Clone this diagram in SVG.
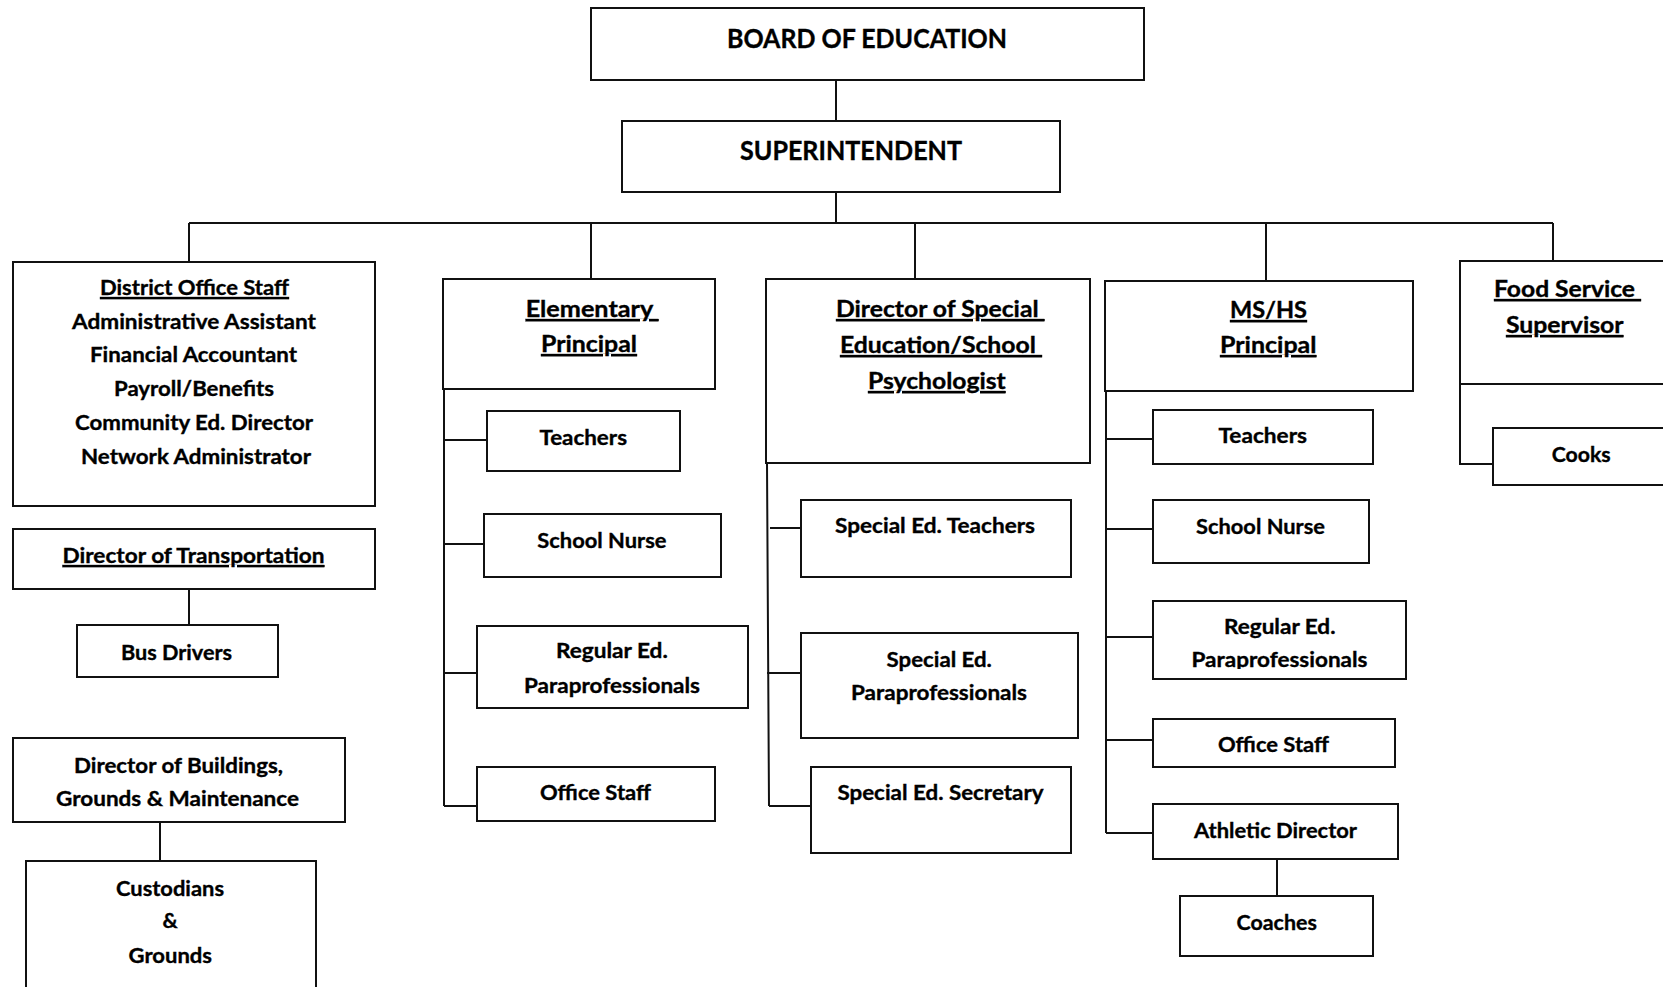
<svg xmlns="http://www.w3.org/2000/svg" width="1663" height="987" viewBox="0 0 1663 987">
<style>
.box{fill:#fff;stroke:#111;stroke-width:2}
.ln{stroke:#111;stroke-width:2;fill:none}
text{font-family:Lato,"Open Sans","Liberation Sans",sans-serif;font-weight:700;fill:#000;stroke:#000;stroke-width:0.35}
.t27{font-size:27px}
.t22{font-size:22px}
.t21{font-size:21px}
.u{text-decoration:underline}
</style>
<defs>
<clipPath id="clipPara"><rect x="1150" y="640" width="260" height="29"/></clipPath>
</defs>
<rect width="1663" height="987" fill="#fff"/>
<g id="connectors">
<path class="ln" d="M836,80V121M836,192V223M189,223H1553M189,223V262M591,223V279M915,223V279M1266,223V281M1553,223V261"/>
<path class="ln" d="M189,589V625M160,822V861"/>
<path class="ln" d="M444,389V806M444,440H487M444,544H484M444,673H477M444,806H477"/>
<path class="ln" d="M767,463L769,806M770,528H801M767,673H801M769,806H811"/>
<path class="ln" d="M1106,391V833M1106,439H1153M1106,529H1153M1106,637H1153M1106,740H1153M1106,833H1153M1277,859V896"/>
<path class="ln" d="M1460,384V464H1493"/>
</g>
<g id="board"><rect class="box" x="591" y="8" width="553" height="72"/>
<text class="t27" x="727" y="48" textLength="280" lengthAdjust="spacingAndGlyphs">BOARD OF EDUCATION</text></g>
<g id="superintendent"><rect class="box" x="622" y="121" width="438" height="71"/>
<text class="t27" x="740" y="160" textLength="222" lengthAdjust="spacingAndGlyphs">SUPERINTENDENT</text></g>
<g id="district"><rect class="box" x="13" y="262" width="362" height="244"/>
<text class="t21 u" x="100" y="295" textLength="189" lengthAdjust="spacingAndGlyphs">District Office Staff</text>
<text class="t21" x="72" y="329" textLength="244" lengthAdjust="spacingAndGlyphs">Administrative Assistant</text>
<text class="t21" x="90" y="362" textLength="207" lengthAdjust="spacingAndGlyphs">Financial Accountant</text>
<text class="t21" x="114" y="396" textLength="160" lengthAdjust="spacingAndGlyphs">Payroll/Benefits</text>
<text class="t21" x="75" y="430" textLength="238" lengthAdjust="spacingAndGlyphs">Community Ed. Director</text>
<text class="t21" x="81" y="464" textLength="230" lengthAdjust="spacingAndGlyphs">Network Administrator</text></g>
<g id="transportation"><rect class="box" x="13" y="529" width="362" height="60"/>
<text class="t21 u" x="62.5" y="563" textLength="262" lengthAdjust="spacingAndGlyphs">Director of Transportation</text></g>
<g id="bus"><rect class="box" x="77" y="625" width="201" height="52"/>
<text class="t21" x="121" y="660" textLength="111" lengthAdjust="spacingAndGlyphs">Bus Drivers</text></g>
<g id="buildings"><rect class="box" x="13" y="738" width="332" height="84"/>
<text class="t21" x="74" y="773" textLength="209" lengthAdjust="spacingAndGlyphs">Director of Buildings,</text>
<text class="t21" x="56" y="806" textLength="243" lengthAdjust="spacingAndGlyphs">Grounds &amp; Maintenance</text></g>
<g id="custodians"><rect class="box" x="26" y="861" width="290" height="140"/>
<text class="t21" x="116" y="896" textLength="108" lengthAdjust="spacingAndGlyphs">Custodians</text>
<text class="t21" x="170" y="928" text-anchor="middle">&amp;</text>
<text class="t21" x="128.6" y="963" textLength="83.4" lengthAdjust="spacingAndGlyphs">Grounds</text></g>
<g id="elementary"><rect class="box" x="443" y="279" width="272" height="110"/>
<text class="t22 u" x="525.7" y="317" xml:space="preserve" textLength="133" lengthAdjust="spacingAndGlyphs">Elementary </text>
<text class="t22 u" x="541" y="352" textLength="96" lengthAdjust="spacingAndGlyphs">Principal</text></g>
<g id="elem-teachers"><rect class="box" x="487" y="411" width="193" height="60"/>
<text class="t21" x="539.4" y="445" textLength="87.6" lengthAdjust="spacingAndGlyphs">Teachers</text></g>
<g id="elem-nurse"><rect class="box" x="484" y="514" width="237" height="63"/>
<text class="t21" x="537.3" y="548" textLength="129.2" lengthAdjust="spacingAndGlyphs">School Nurse</text></g>
<g id="elem-regular"><rect class="box" x="477" y="626" width="271" height="82"/>
<text class="t21" x="556" y="658" textLength="111.8" lengthAdjust="spacingAndGlyphs">Regular Ed.</text>
<text class="t21" x="524" y="693" textLength="176" lengthAdjust="spacingAndGlyphs">Paraprofessionals</text></g>
<g id="elem-office"><rect class="box" x="477" y="767" width="238" height="54"/>
<text class="t21" x="540" y="800" textLength="111" lengthAdjust="spacingAndGlyphs">Office Staff</text></g>
<g id="special"><rect class="box" x="766" y="279" width="324" height="184"/>
<text class="t22 u" x="836" y="317" xml:space="preserve" textLength="208.6" lengthAdjust="spacingAndGlyphs">Director of Special </text>
<text class="t22 u" x="840" y="353" xml:space="preserve" textLength="202" lengthAdjust="spacingAndGlyphs">Education/School </text>
<text class="t22 u" x="868" y="389" textLength="137.7" lengthAdjust="spacingAndGlyphs">Psychologist</text></g>
<g id="sp-teachers"><rect class="box" x="801" y="500" width="270" height="77"/>
<text class="t21" x="835" y="533" textLength="200" lengthAdjust="spacingAndGlyphs">Special Ed. Teachers</text></g>
<g id="sp-para"><rect class="box" x="801" y="633" width="277" height="105"/>
<text class="t21" x="886.6" y="667" textLength="105.3" lengthAdjust="spacingAndGlyphs">Special Ed.</text>
<text class="t21" x="851" y="700" textLength="176" lengthAdjust="spacingAndGlyphs">Paraprofessionals</text></g>
<g id="sp-secretary"><rect class="box" x="811" y="767" width="260" height="86"/>
<text class="t21" x="837.4" y="800" textLength="206.2" lengthAdjust="spacingAndGlyphs">Special Ed. Secretary</text></g>
<g id="mshs"><rect class="box" x="1105" y="281" width="308" height="110"/>
<text class="t22 u" x="1230" y="318" textLength="77" lengthAdjust="spacingAndGlyphs">MS/HS</text>
<text class="t22 u" x="1220" y="353" textLength="96.5" lengthAdjust="spacingAndGlyphs">Principal</text></g>
<g id="ms-teachers"><rect class="box" x="1153" y="410" width="220" height="54"/>
<text class="t21" x="1218.5" y="443" textLength="88.5" lengthAdjust="spacingAndGlyphs">Teachers</text></g>
<g id="ms-nurse"><rect class="box" x="1153" y="500" width="216" height="63"/>
<text class="t21" x="1196" y="534" textLength="129" lengthAdjust="spacingAndGlyphs">School Nurse</text></g>
<g id="ms-regular"><rect class="box" x="1153" y="601" width="253" height="78"/>
<text class="t21" x="1224" y="634" textLength="111.5" lengthAdjust="spacingAndGlyphs">Regular Ed.</text>
<text class="t21" x="1191.5" y="667" textLength="176" lengthAdjust="spacingAndGlyphs" clip-path="url(#clipPara)">Paraprofessionals</text></g>
<g id="ms-office"><rect class="box" x="1153" y="719" width="242" height="48"/>
<text class="t21" x="1218" y="752" textLength="111" lengthAdjust="spacingAndGlyphs">Office Staff</text></g>
<g id="athletic"><rect class="box" x="1153" y="804" width="245" height="55"/>
<text class="t21" x="1194" y="838" textLength="163" lengthAdjust="spacingAndGlyphs">Athletic Director</text></g>
<g id="coaches"><rect class="box" x="1180" y="896" width="193" height="60"/>
<text class="t21" x="1236.5" y="930" textLength="80.3" lengthAdjust="spacingAndGlyphs">Coaches</text></g>
<g id="food"><rect class="box" x="1460" y="261" width="220" height="123"/>
<text class="t22 u" x="1494" y="297" xml:space="preserve" textLength="147" lengthAdjust="spacingAndGlyphs">Food Service </text>
<text class="t22 u" x="1506" y="333" textLength="117.5" lengthAdjust="spacingAndGlyphs">Supervisor</text></g>
<g id="cooks"><rect class="box" x="1493" y="428" width="187" height="57"/>
<text class="t21" x="1551.7" y="462" textLength="59" lengthAdjust="spacingAndGlyphs">Cooks</text></g>
</svg>
